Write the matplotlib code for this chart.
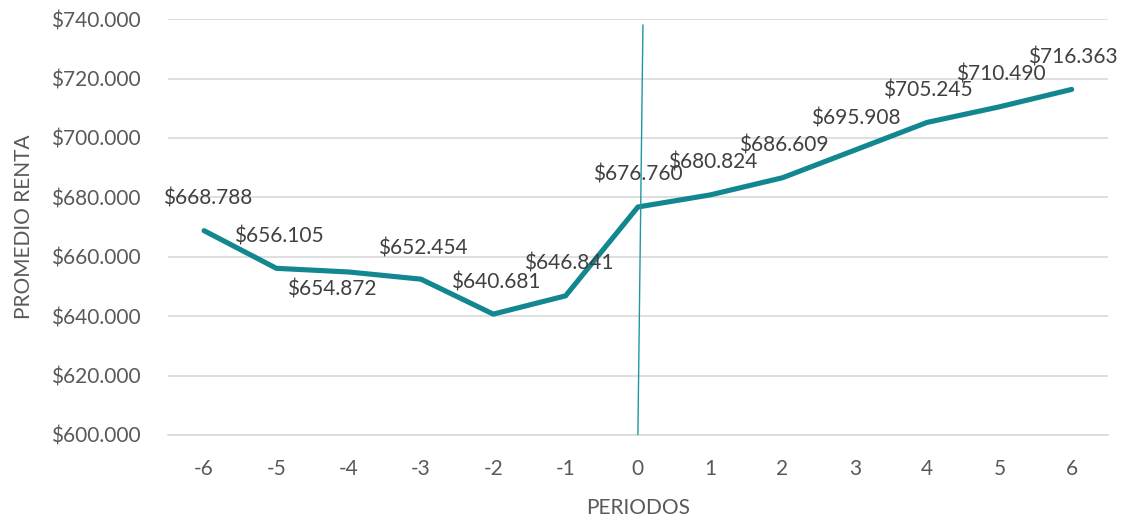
import matplotlib
matplotlib.use("Agg")
import matplotlib.pyplot as plt
from matplotlib.ticker import FuncFormatter, MultipleLocator

periodos = [-6, -5, -4, -3, -2, -1, 0, 1, 2, 3, 4, 5, 6]
renta = [668788, 656105, 654872, 652454, 640681, 646841, 676760,
         680824, 686609, 695908, 705245, 710490, 716363]
periodo_corte = 0

# label offsets in pixels (dx, dy) relative to each point
label_offsets = [(4, 32), (2, 32), (-17, -18), (2, 31), (2, 32), (3, 32), (0, 32),
                 (3, 32), (1, 32), (1, 32), (1, 32), (1, 32), (1, 32)]

plt.rcParams['font.family'] = ['Lato', 'DejaVu Sans']
txt = '#595959'
teal = '#13878F'

fig = plt.figure(figsize=(11.27, 5.19), dpi=100)
ax = fig.add_axes([0.149, 0.162, 0.834, 0.801])

ax.plot(periodos, renta, color=teal, lw=3.7, solid_capstyle='round', solid_joinstyle='round', zorder=3)

ax.plot([periodo_corte + 0.07, periodo_corte], [738000, 600000], color='#2196A0', lw=1.0, zorder=4)

def fmt(v):
    return '$' + f"{int(round(v)):,}".replace(',', '.')

for x, y, (dx, dy) in zip(periodos, renta, label_offsets):
    ax.annotate(fmt(y), (x, y), xytext=(dx * 0.72, dy * 0.72), textcoords='offset points',
                ha='center', va='center', fontsize=15, color='#404040', zorder=5)

ax.set_xlim(-6.5, 6.5)
ax.set_ylim(600000, 740000)
ax.set_xticks(periodos)
ax.set_xticklabels([str(p) for p in periodos])
ax.yaxis.set_major_locator(MultipleLocator(20000))
ax.yaxis.set_major_formatter(FuncFormatter(lambda v, p: fmt(v)))

ax.grid(axis='y', color='#D9D9D9', lw=1.2)
ax.set_axisbelow(True)
for s in ['top', 'right', 'left']:
    ax.spines[s].set_visible(False)
ax.spines['bottom'].set_color('#D9D9D9')
ax.spines['bottom'].set_linewidth(1.2)
ax.tick_params(length=0, labelsize=15, colors=txt)
ax.tick_params(axis='x', pad=17)
ax.tick_params(axis='y', pad=20)

ax.set_xlabel('PERIODOS', fontsize=15, color=txt, labelpad=14)
ax.set_ylabel('PROMEDIO RENTA', fontsize=15, color=txt, labelpad=12)

fig.savefig('out.png', dpi=100)
